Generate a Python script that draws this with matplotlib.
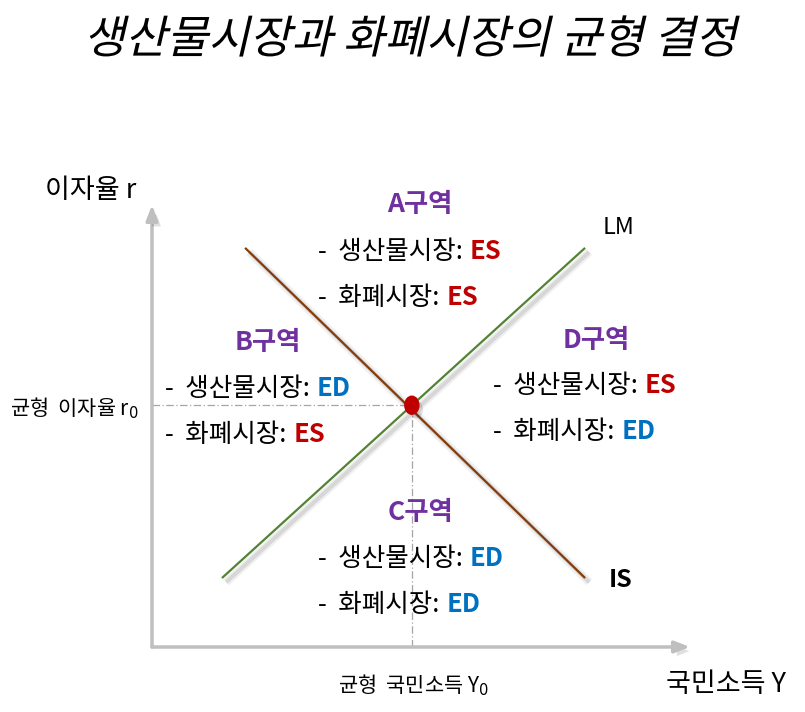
import matplotlib
matplotlib.use("Agg")
import matplotlib.pyplot as plt
import matplotlib.patheffects as pe
from matplotlib.patches import Ellipse
from matplotlib.transforms import Affine2D

plt.rcParams["font.family"] = ["Noto Sans CJK KR", "DejaVu Sans"]

# curves (income Y, interest r), axis length 10 each way
lm_y = [1.30, 8.05]
lm_r = [1.56, 9.03]
is_y = [1.73, 8.05]
is_r = [9.03, 1.56]
eq_y, eq_r = 4.83, 5.47
axis_max = [10.0, 10.0]

regions = ["A구역", "B구역", "C구역", "D구역"]
goods_state = ["ES", "ED", "ED", "ES"]
money_state = ["ES", "ES", "ED", "ED"]
state_color = {"ES": "#C00000", "ED": "#0070C0"}

# pixel -> data helpers (origin of the diagram at pixel 152, 647)
SX, SY = 53.8, 44.2


def px(x):
    return (x - 152) / SX


def py(y):
    return (647 - y) / SY


class Skew(pe.AbstractPathEffect):
    """fake italic for the CJK title"""

    def __init__(self, deg):
        super().__init__()
        self.deg = deg

    def draw_path(self, renderer, gc, tpath, affine, rgbFace=None):
        ox, oy = affine.transform((0, 0))
        t = affine + Affine2D().translate(-ox, -oy).skew_deg(self.deg, 0).translate(ox, oy)
        renderer.draw_path(gc, tpath, t, rgbFace)


fig = plt.figure(figsize=(8.05, 7.12), dpi=100)
ax = fig.add_axes([0, 0, 1, 1])
ax.axis("off")
ax.set_xlim(px(0), px(805))
ax.set_ylim(py(712), py(0))

shadow = [
    pe.SimpleLineShadow(offset=(3, -3), shadow_color="k", alpha=0.06, linewidth=6),
    pe.SimpleLineShadow(offset=(3, -3), shadow_color="k", alpha=0.10, linewidth=3),
    pe.Normal(),
]
patch_shadow = [
    pe.SimplePatchShadow(offset=(3, -3), shadow_rgbFace="k", alpha=0.12),
    pe.Normal(),
]

# axes with arrows
axis_grey = "#BFBFBF"
for end in [(axis_max[0], 0), (0, axis_max[1])]:
    ax.annotate("", xy=end, xytext=(0, 0),
                arrowprops=dict(arrowstyle="-|>,head_length=0.9,head_width=0.35",
                                color=axis_grey, lw=2.5, shrinkA=0, shrinkB=0,
                                path_effects=patch_shadow))

# guide lines to the equilibrium
guide = dict(color="#A6A6A6", lw=0.9, dashes=(6, 2, 1, 2))
ax.plot([0, eq_y], [eq_r, eq_r], **guide)
ax.plot([eq_y, eq_y], [0, eq_r], **guide)

# LM and IS
ax.plot(lm_y, lm_r, color="#548235", lw=1.6, solid_capstyle="butt", path_effects=shadow)
ax.plot(is_y, is_r, color="#843C0C", lw=1.6, solid_capstyle="butt", path_effects=shadow)

dot = Ellipse((eq_y, eq_r), 14 / SX, 18 / SY, color="#C00000", zorder=5)
dot.set_path_effects(patch_shadow)
ax.add_patch(dot)

# title
ax.text(px(410), py(40), "생산물시장과 화폐시장의 균형 결정", fontsize=32.5,
        ha="center", va="center", path_effects=[Skew(13)])

# axis labels
ax.text(px(45), py(190), "이자율 r", fontsize=19.5, ha="left", va="center")
ax.text(px(666), py(684), "국민소득 Y", fontsize=19.5, ha="left", va="center")
ax.text(px(139), py(408), "균형  이자율 r$_0$", fontsize=15, ha="right", va="center")
ax.text(px(413), py(685), "균형  국민소득 Y$_0$", fontsize=15, ha="center", va="center")
ax.text(px(603), py(227), "LM", fontsize=17, ha="left", va="center")
ax.text(px(609), py(580), "IS", fontsize=18, ha="left", va="center", fontweight="bold")

# region boxes: title center x, title y, line left x, line ys
layout = {
    "A구역": (420, 205, 318, (250, 296)),
    "B구역": (268, 342, 165, (387, 433)),
    "C구역": (420, 513, 318, (557, 603)),
    "D구역": (596, 341, 493, (384, 430)),
}

renderer = fig.canvas.get_renderer()
inv = ax.transData.inverted()
for name, g, m in zip(regions, goods_state, money_state):
    cx, ty, lx, (y1, y2) = layout[name]
    ax.text(px(cx), py(ty), name, fontsize=19, fontweight="bold", color="#7030A0",
            ha="center", va="center")
    for label, state, yy in [("-  생산물시장:", g, y1), ("-  화폐시장:", m, y2)]:
        t = ax.text(px(lx), py(yy + 9), label, fontsize=18.4, ha="left", va="baseline")
        bb = t.get_window_extent(renderer)
        x_end = inv.transform((bb.x1 + 7, 0))[0]
        ax.text(x_end, py(yy + 9), state, fontsize=18.4, fontweight="bold",
                color=state_color[state], ha="left", va="baseline")

fig.savefig("out.png", dpi=100)
